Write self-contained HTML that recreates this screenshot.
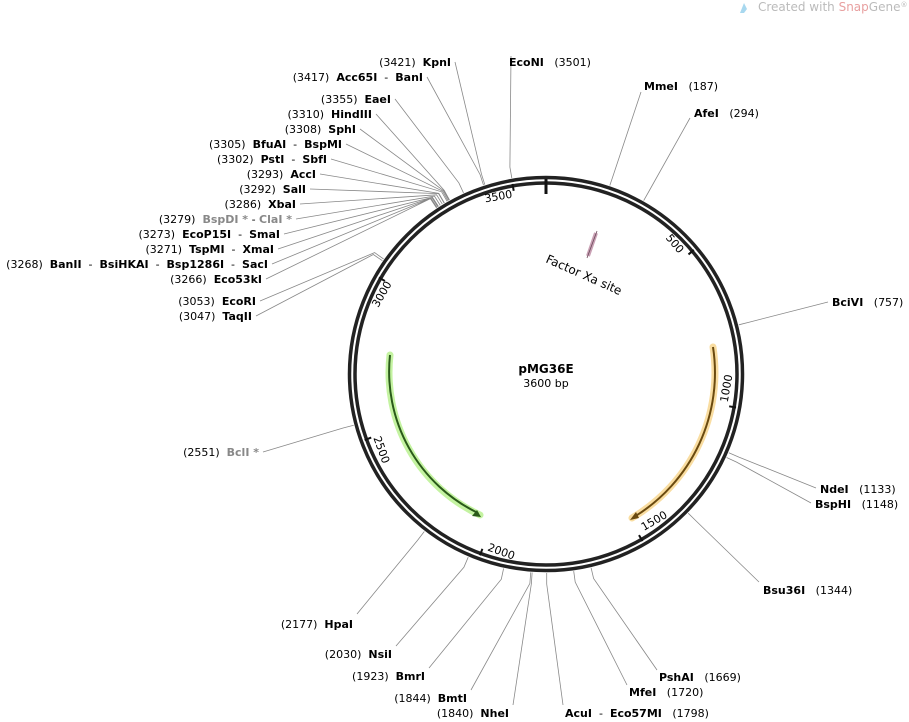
<!DOCTYPE html>
<html><head><meta charset="utf-8"><style>
html,body{margin:0;padding:0;background:#fff}
svg{display:block}
text{font-family:"DejaVu Sans","Liberation Sans",sans-serif;font-size:11px;fill:#000;white-space:pre}
.b{font-weight:bold}
.g{fill:#888}
.gb{fill:#888;font-weight:bold}
</style></head><body>
<svg id="s" width="909" height="722" viewBox="0 0 909 722" xmlns="http://www.w3.org/2000/svg" xml:space="preserve">
<g id="lines" stroke="#888" stroke-width="0.8" fill="none"></g>
<circle cx="546" cy="374" r="196.5" fill="none" stroke="#222" stroke-width="3.5"/>
<circle cx="546" cy="374" r="191" fill="none" stroke="#222" stroke-width="3.5"/>
<line x1="546" y1="179" x2="546" y2="194" stroke="#111" stroke-width="3"/>
<g id="ticks" stroke="#111" stroke-width="2"></g>
<path d="M390,355 A157,157 0 0 0 480,515" fill="none" stroke="#b5f08a" stroke-width="7" stroke-linecap="round" opacity="0.8"/>
<path d="M390,355 A157,157 0 0 0 478,513" fill="none" stroke="#2a5a1a" stroke-width="2"/>
<polygon points="481,517 472,516 477,510" fill="#2a5a1a"/>
<path d="M713,347 A169,169 0 0 1 632,518" fill="none" stroke="#f8d48a" stroke-width="7" stroke-linecap="round" opacity="0.8"/>
<path d="M713,347 A169,169 0 0 1 634,517" fill="none" stroke="#6a4a10" stroke-width="2"/>
<polygon points="630,520 636,512 639,518" fill="#6a4a10"/>
<line x1="596" y1="233" x2="588" y2="256" stroke="#c9a0b4" stroke-width="4"/>
<line x1="597" y1="231" x2="587" y2="258" stroke="#6a4a5a" stroke-width="0.8"/>
<text x="545" y="262" transform="rotate(24 545 262)" style="font-size:12px">Factor Xa site</text>
<text x="546" y="373" text-anchor="middle" class="b" style="font-size:12px">pMG36E</text>
<text x="546" y="387" text-anchor="middle">3600 bp</text>
<g text-anchor="end">
<text x="451" y="66">(3421)  <tspan class="b">KpnI</tspan></text>
<text x="423" y="81">(3417)  <tspan class="b">Acc65I</tspan>  -  <tspan class="b">BanI</tspan></text>
<text x="391" y="103">(3355)  <tspan class="b">EaeI</tspan></text>
<text x="372" y="118">(3310)  <tspan class="b">HindIII</tspan></text>
<text x="356" y="133">(3308)  <tspan class="b">SphI</tspan></text>
<text x="342" y="148">(3305)  <tspan class="b">BfuAI</tspan>  -  <tspan class="b">BspMI</tspan></text>
<text x="327" y="163">(3302)  <tspan class="b">PstI</tspan>  -  <tspan class="b">SbfI</tspan></text>
<text x="316" y="178">(3293)  <tspan class="b">AccI</tspan></text>
<text x="306" y="193">(3292)  <tspan class="b">SalI</tspan></text>
<text x="296" y="208">(3286)  <tspan class="b">XbaI</tspan></text>
<text x="292" y="223">(3279)  <tspan class="gb">BspDI *</tspan> - <tspan class="gb">ClaI *</tspan></text>
<text x="280" y="238">(3273)  <tspan class="b">EcoP15I</tspan>  -  <tspan class="b">SmaI</tspan></text>
<text x="274" y="253">(3271)  <tspan class="b">TspMI</tspan>  -  <tspan class="b">XmaI</tspan></text>
<text x="268" y="268">(3268)  <tspan class="b">BanII</tspan>  -  <tspan class="b">BsiHKAI</tspan>  -  <tspan class="b">Bsp1286I</tspan>  -  <tspan class="b">SacI</tspan></text>
<text x="262" y="283">(3266)  <tspan class="b">Eco53kI</tspan></text>
<text x="256" y="305">(3053)  <tspan class="b">EcoRI</tspan></text>
<text x="252" y="320">(3047)  <tspan class="b">TaqII</tspan></text>
<text x="259" y="456">(2551)  <tspan class="gb">BclI *</tspan></text>
<text x="353" y="628">(2177)  <tspan class="b">HpaI</tspan></text>
<text x="392" y="658">(2030)  <tspan class="b">NsiI</tspan></text>
<text x="425" y="680">(1923)  <tspan class="b">BmrI</tspan></text>
<text x="467" y="702">(1844)  <tspan class="b">BmtI</tspan></text>
<text x="509" y="717">(1840)  <tspan class="b">NheI</tspan></text>
</g>
<g>
<text x="509" y="66"><tspan class="b">EcoNI</tspan>   (3501)</text>
<text x="644" y="90"><tspan class="b">MmeI</tspan>   (187)</text>
<text x="694" y="117"><tspan class="b">AfeI</tspan>   (294)</text>
<text x="832" y="306"><tspan class="b">BciVI</tspan>   (757)</text>
<text x="820" y="493"><tspan class="b">NdeI</tspan>   (1133)</text>
<text x="815" y="508"><tspan class="b">BspHI</tspan>   (1148)</text>
<text x="763" y="594"><tspan class="b">Bsu36I</tspan>   (1344)</text>
<text x="659" y="681"><tspan class="b">PshAI</tspan>   (1669)</text>
<text x="629" y="696"><tspan class="b">MfeI</tspan>   (1720)</text>
<text x="565" y="717"><tspan class="b">AcuI</tspan>  -  <tspan class="b">Eco57MI</tspan>   (1798)</text>
</g>
<text x="758" y="11" style="font-size:12px;fill:#bbb">Created with <tspan style="fill:#e8a0a0">Snap</tspan>Gene<tspan style="font-size:7px" dy="-4">®</tspan></text>
<polygon points="740,13 744,3 747,9 744,13" fill="#a8d8ef"/>
<text x="0" y="0" transform="translate(499,200) rotate(-10)" text-anchor="middle">3500</text>
<text x="0" y="0" transform="translate(672,246) rotate(50)" text-anchor="middle">500</text>
<text x="0" y="0" transform="translate(730,389) rotate(-80)" text-anchor="middle">1000</text>
<text x="0" y="0" transform="translate(656,524) rotate(-30)" text-anchor="middle">1500</text>
<text x="0" y="0" transform="translate(500,555) rotate(20)" text-anchor="middle">2000</text>
<text x="0" y="0" transform="translate(378,451) rotate(70)" text-anchor="middle">2500</text>
<text x="0" y="0" transform="translate(385,296) rotate(-60)" text-anchor="middle">3000</text>
</svg>
<script>
(function(){
var cx=546,cy=374,NS="http://www.w3.org/2000/svg";
function pt(p,r){var a=p/3600*2*Math.PI;return [cx+r*Math.sin(a),cy-r*Math.cos(a)];}
var L=[[3421,455,62],[3417,427,77],[3355,395,99],[3310,376,114],[3308,360,129],[3305,346,144],[3302,331,159],[3293,320,174],[3292,310,189],[3286,300,204],[3279,296,219],[3273,284,234],[3271,278,249],[3268,272,264],[3266,266,279],[3053,260,301],[3047,256,316],[2551,263,452],[2177,357,614],[2030,396,646],[1923,429,668],[1844,471,690],[1840,513,705],
[3501,511,56],[187,641,92],[294,690,118],[757,828,302],[1133,816,488],[1148,811,503],[1344,759,582],[1669,657,670],[1720,627,685],[1798,563,705]];
var g=document.getElementById('lines'),s="";
L.forEach(function(l){var a=pt(l[0],199),b=pt(l[0],210);s+="M"+a[0].toFixed(1)+","+a[1].toFixed(1)+"L"+b[0].toFixed(1)+","+b[1].toFixed(1)+"L"+l[1]+","+l[2];});
var p=document.createElementNS(NS,'path');p.setAttribute('d',s);g.appendChild(p);
var t=document.getElementById('ticks'),ts="";
[500,1000,1500,2000,2500,3000,3500].forEach(function(v){var a=pt(v,193),b=pt(v,186);ts+="M"+a[0]+","+a[1]+"L"+b[0]+","+b[1];});
var q=document.createElementNS(NS,'path');q.setAttribute('d',ts);t.appendChild(q);
})();
</script>
</body></html>
